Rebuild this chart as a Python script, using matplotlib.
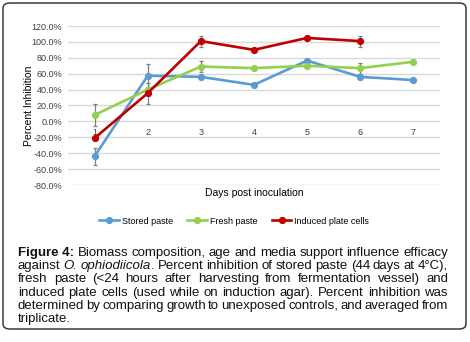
import matplotlib
matplotlib.use("Agg")
import matplotlib.pyplot as plt
from matplotlib.patches import FancyBboxPatch
from matplotlib.ticker import FuncFormatter, MultipleLocator

# data
days = [1, 2, 3, 4, 5, 6, 7]
stored = [-0.44, 0.575, 0.56, 0.46, 0.765, 0.56, 0.52]
stored_err = [0.11, 0.15, 0.02, 0.02, 0.02, 0.03, 0.02]
fresh = [0.08, 0.40, 0.69, 0.67, 0.70, 0.67, 0.75]
fresh_err = [0.14, 0.03, 0.07, 0.02, 0.02, 0.07, 0.02]
induced_days = [1, 2, 3, 4, 5, 6]
induced = [-0.21, 0.355, 1.01, 0.90, 1.05, 1.01]
induced_err = [0.03, 0.13, 0.07, 0.02, 0.02, 0.07]

caption_lines = [
    [[("Figure 4:", "bold")], [("Biomass", "")], [("composition,", "")], [("age", "")],
     [("and", "")], [("media", "")], [("support", "")], [("influence", "")], [("efficacy", "")]],
    [[("against", "")], [("O.", "italic")], [("ophiodiicola", "italic"), (".", "")],
     [("Percent", "")], [("inhibition", "")], [("of", "")], [("stored", "")], [("paste", "")],
     [("(44", "")], [("days", "")], [("at", "")], [("4°C),", "")]],
    [[(w, "")] for w in "fresh paste (<24 hours after harvesting from fermentation vessel) and".split()],
    [[(w, "")] for w in "induced plate cells (used while on induction agar). Percent inhibition was".split()],
    [[(w, "")] for w in "determined by comparing growth to unexposed controls, and averaged from".split()],
    [[("triplicate.", "")]],
]

plt.rcParams['font.family'] = 'Liberation Sans'
W, H = 470, 342
fig = plt.figure(figsize=(W / 100, H / 100), dpi=100)

# outer rounded frame
frame = FancyBboxPatch((3 / W, 13 / H), 463 / W, 326 / H, boxstyle="round,pad=0,rounding_size=0.015",
                       transform=fig.transFigure, fill=False, edgecolor="#3a3a3a", linewidth=1.1)
fig.patches.append(frame)

ax = fig.add_axes([68 / W, 1 - 185 / H, 372 / W, 159 / H])
ax.set_xlim(0.5, 7.5)
ax.set_ylim(-0.8, 1.2)
ax.yaxis.set_major_locator(MultipleLocator(0.2))
ax.yaxis.set_major_formatter(FuncFormatter(lambda v, p: f"{v * 100:.1f}%"))
ax.set_xticks(days)
ax.grid(axis="y", color="#d9d9d9", linewidth=1.0)
ax.set_axisbelow(True)
for s in ["top", "right", "left"]:
    ax.spines[s].set_visible(False)
ax.spines["bottom"].set_position(("data", 0))
ax.spines["bottom"].set_visible(False)
ax.tick_params(axis="both", length=0, labelsize=6.5, colors="#404040")
ax.tick_params(axis="x", pad=5)
ax.tick_params(axis="y", pad=4)

err_kw = dict(ecolor="#7f7f7f", elinewidth=0.9, capsize=1.6, capthick=0.9)
ax.errorbar(days, stored, yerr=stored_err, color="#5b9bd5", lw=1.9, marker="o", ms=4.2,
            label="Stored paste", **err_kw)
ax.errorbar(days, fresh, yerr=fresh_err, color="#92d050", lw=1.9, marker="o", ms=4.2,
            label="Fresh paste", **err_kw)
ax.errorbar(induced_days, induced, yerr=induced_err, color="#c00000", lw=1.9, marker="o", ms=4.2,
            label="Induced plate cells", **err_kw)

ax.set_ylabel("Percent Inhibition", fontsize=7.5)
ax.yaxis.set_label_coords((34 - 68) / 372, 0.5)
fig.text(254 / W, 1 - 193 / H, "Days post inoculation", fontsize=7.5, ha="center", va="center")

handles, labels = ax.get_legend_handles_labels()
handles = [h[0] for h in handles]
fig.legend(handles, labels, loc="center", bbox_to_anchor=(234 / W, 1 - 221 / H), ncol=3,
           frameon=False, fontsize=6.5, handlelength=2.2, handletextpad=0.3, columnspacing=1.6)

# justified caption
renderer = fig.canvas.get_renderer()
x0, x1 = 18, 448
baselines = [256, 269, 282, 296, 309, 322]
fs = 9.5


def seg_props(style):
    if style == "bold":
        return dict(fontweight="bold")
    if style == "italic":
        return dict(fontstyle="italic")
    return {}


for li, words in enumerate(caption_lines):
    y = 1 - baselines[li] / H
    widths = []
    for word in words:
        ww = []
        for s, st in word:
            t = fig.text(0, 0, s, fontsize=fs, **seg_props(st))
            ww.append(t.get_window_extent(renderer).width)
            t.remove()
        widths.append(ww)
    total = sum(sum(w) for w in widths)
    last = li == len(caption_lines) - 1
    if last or len(words) == 1:
        gap = fs * 100 / 72 * 0.278
    else:
        gap = (x1 - x0 - total) / (len(words) - 1)
    x = x0
    for word, ww in zip(words, widths):
        for (s, st), w in zip(word, ww):
            fig.text(x / W, y, s, fontsize=fs, ha="left", va="baseline", color="#111111", **seg_props(st))
            x += w
        x += gap

fig.savefig("out.png", dpi=100)
